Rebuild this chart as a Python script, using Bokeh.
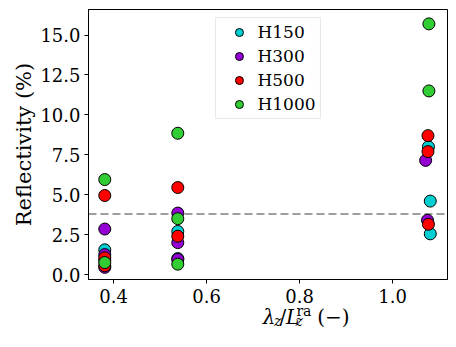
from bokeh.plotting import figure
from bokeh.models import (Range1d, FixedTicker, NumeralTickFormatter, Span, Legend,
                          LegendItem)
from bokeh.layouts import column
from bokeh.core.properties import value
from bokeh.embed import file_html
from bokeh.resources import INLINE

# ---- data ----
series_names = ["H150", "H300", "H500", "H1000"]
series_colors = ["#00CED1", "#9400D3", "#FF0000", "#32CD32"]

h150_x = [0.381, 0.381, 0.538, 0.538, 1.077, 1.081, 1.081]
h150_y = [1.55, 0.90, 2.70, 1.00, 8.00, 4.60, 2.55]

h300_x = [0.381, 0.381, 0.381, 0.538, 0.538, 0.538, 1.071, 1.075]
h300_y = [2.85, 1.25, 0.45, 3.85, 2.00, 0.95, 7.15, 3.40]

h500_x = [0.381, 0.381, 0.381, 0.538, 0.538, 1.076, 1.076, 1.077]
h500_y = [4.95, 1.05, 0.55, 5.45, 2.40, 8.70, 7.70, 3.15]

h1000_x = [0.381, 0.381, 0.538, 0.538, 0.538, 1.078, 1.078]
h1000_y = [5.95, 0.75, 8.85, 3.50, 0.65, 15.70, 11.50]

threshold = 3.8

x_ticks = [0.4, 0.6, 0.8, 1.0]
y_ticks = [0.0, 2.5, 5.0, 7.5, 10.0, 12.5, 15.0]

FONT = "DejaVu Serif"
FIG_W = 88 + 359 + 2

p = figure(title=None, frame_width=359, frame_height=270, min_border_left=88,
           min_border_right=2, min_border_top=9, min_border_bottom=32,
           x_range=Range1d(0.346, 1.118), y_range=Range1d(-0.31, 16.6),
           output_backend="svg", toolbar_location=None)

p.grid.visible = False
p.outline_line_color = "black"
p.outline_line_width = 1
p.background_fill_color = "white"
p.border_fill_color = "white"

for ax in (p.xaxis[0], p.yaxis[0]):
    ax.axis_line_color = "black"
    ax.major_tick_line_color = "black"
    ax.major_tick_out = 4
    ax.major_tick_in = 0
    ax.minor_tick_line_color = None
    ax.major_label_text_font = FONT
    ax.major_label_text_font_size = "18px"
    ax.major_label_text_color = "black"
    ax.axis_label_text_font = FONT
    ax.axis_label_text_font_style = "normal"
    ax.axis_label_text_color = "black"

p.xaxis.ticker = FixedTicker(ticks=x_ticks)
p.yaxis.ticker = FixedTicker(ticks=y_ticks)
p.xaxis.formatter = NumeralTickFormatter(format="0.0")
p.yaxis.formatter = NumeralTickFormatter(format="0.0")
p.xaxis.major_label_standoff = 5
p.yaxis.major_label_standoff = 4

p.yaxis.axis_label = "Reflectivity (%)"
p.yaxis.axis_label_text_font_size = "21px"
p.yaxis.axis_label_standoff = 1

span = Span(location=threshold, dimension="width", line_color="#7f7f7f",
            line_width=1.5, line_dash="8 4", level="underlay")
p.add_layout(span)

xs = [h150_x, h300_x, h500_x, h1000_x]
ys = [h150_y, h300_y, h500_y, h1000_y]
items = []
for name, color, x, y in zip(series_names, series_colors, xs, ys):
    r = p.scatter(x=x, y=y, size=12, marker="circle", fill_color=color,
                  line_color="black", line_width=1)
    items.append(LegendItem(label=name, renderers=[r]))

legend = Legend(items=items, location="top_center", margin=8, padding=4, spacing=4,
                glyph_width=38, glyph_height=20, label_height=20, label_standoff=0,
                label_text_font=FONT, label_text_font_size="17px", label_text_color="black",
                border_line_color="#d0d0d0", border_line_width=1,
                background_fill_color="white", background_fill_alpha=0.8)
p.add_layout(legend)

# ---- x-axis label strip: lambda_z / L_z^ra (-) (overlaps the bottom border a little) ----
LAB_H = 40
p2 = figure(width=FIG_W, height=LAB_H, x_range=Range1d(0, FIG_W), y_range=Range1d(0, LAB_H),
            min_border=0, x_axis_location=None, y_axis_location=None,
            output_backend="svg", toolbar_location=None, title=None)
p2.grid.visible = False
p2.outline_line_color = None
p2.background_fill_alpha = 0
p2.border_fill_alpha = 0
p2.margin = (-12, 0, 0, 0)

base = 23
pieces = [
    ("λ", 218, base, "20px", "italic"),
    ("z", 232, base - 4, "14px", "italic"),
    ("/", 239, base, "20px", "normal"),
    ("L", 247, base, "20px", "italic"),
    ("z", 259, base - 4, "14px", "italic"),
    ("ra", 260, base + 6, "14px", "normal"),
    ("(−)", 286, base, "20px", "normal"),
]
for txt, px, py, fs, style in pieces:
    p2.text(x=[px], y=[py], text=[txt], text_font=value(FONT), text_font_size=value(fs),
            text_font_style=value(style), text_color="black",
            text_baseline="alphabetic", text_align="left")

layout = column(p, p2, spacing=0)
open("out.html", "w").write(file_html(layout, INLINE))
